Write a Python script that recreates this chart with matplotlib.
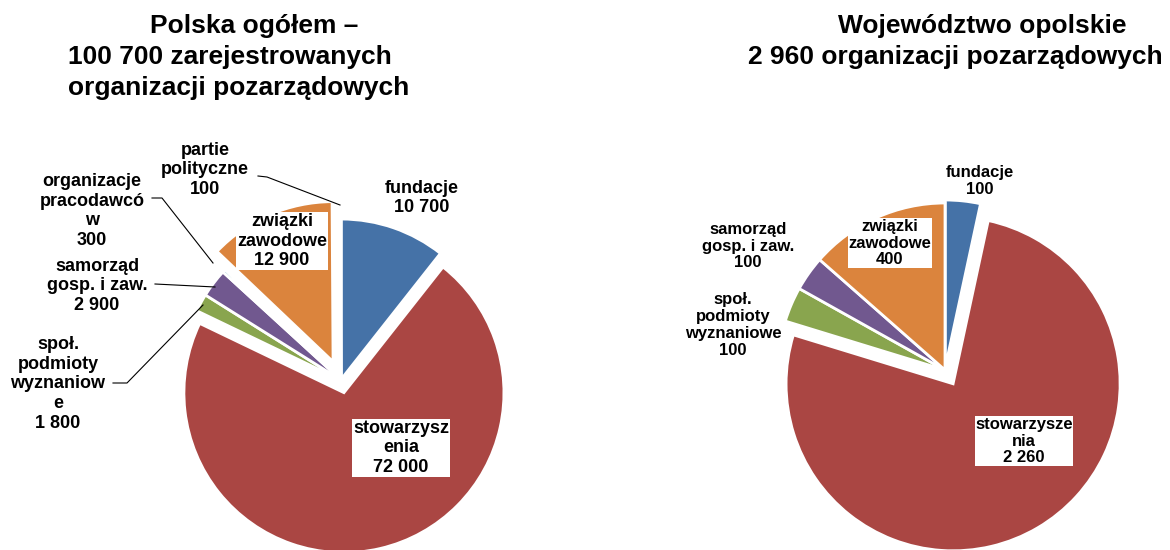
import matplotlib
matplotlib.use('Agg')
import matplotlib.pyplot as plt

plt.rcParams['font.family'] = ['Liberation Sans', 'DejaVu Sans']
plt.rcParams['font.weight'] = 'bold'

# Polska ogółem
labels_pl = ['fundacje', 'stowarzysz\nenia', 'społ.\npodmioty\nwyznaniow\ne',
             'samorząd\ngosp. i zaw.', 'organizacje\npracodawcó\nw',
             'związki\nzawodowe', 'partie\npolityczne']
values_pl = [10700, 72000, 1800, 2900, 300, 12900, 100]
colors_pl = ['#4572A7', '#AA4643', '#89A54E', '#71588F', '#4198AF', '#DB843D', '#93A9CF']

# Województwo opolskie
labels_op = ['fundacje', 'stowarzysze\nnia', 'społ.\npodmioty\nwyznaniowe',
             'samorząd\ngosp. i zaw.', 'związki\nzawodowe']
values_op = [100, 2260, 100, 100, 400]
colors_op = ['#4572A7', '#AA4643', '#89A54E', '#71588F', '#DB843D']

W, H = 1170, 550


def fmt(v):
    return f'{v:,}'.replace(',', ' ')


def flip(y):
    return H - y


fig = plt.figure(figsize=(11.7, 5.5), dpi=100)
ax = fig.add_axes([0, 0, 1, 1])

# explode offsets are in data units (pixels here)
wp = dict(edgecolor='white', linewidth=2)
ax.pie(values_pl, radius=160, center=(341, flip(380)), startangle=90, counterclock=False,
       colors=colors_pl, explode=[1, 13, 0, 0, 0, 20, 0], wedgeprops=wp, frame=True)
ax.pie(values_op, radius=167, center=(945, flip(370)), startangle=90, counterclock=False,
       colors=colors_op, explode=[3, 16, 0, 0, 0], wedgeprops=wp, frame=True)

# label layout (pixel positions, top origin)
pos_pl = [(422, 198), (401, 448), (58, 384), (97, 286), (92, 211), (282, 241), (205, 170)]
boxed_pl = [False, True, False, False, False, True, False]
pos_op = [(980, 181), (1024, 441), (733, 325), (748, 246), (890, 243)]
boxed_op = [False, True, False, False, True]

for lab, v, (x, y), b in zip(labels_pl, values_pl, pos_pl, boxed_pl):
    kw = dict(facecolor='white', edgecolor='none', pad=0.4) if b else None
    ax.text(x, flip(y), f'{lab}\n{fmt(v)}', ha='center', va='center', fontsize=13,
            linespacing=1.2, bbox=kw, zorder=5)

for lab, v, (x, y), b in zip(labels_op, values_op, pos_op, boxed_op):
    kw = dict(facecolor='white', edgecolor='none', pad=0.3) if b else None
    ax.text(x, flip(y), f'{lab}\n{fmt(v)}', ha='center', va='center', fontsize=12,
            linespacing=1.15, bbox=kw, zorder=5)

# leader lines
leaders = [
    [(258, 176), (267, 177), (340, 205)],
    [(152, 198), (162, 198), (213, 263)],
    [(155, 284), (215, 287)],
    [(113, 383), (127, 383), (203, 305)],
]
for pts in leaders:
    ax.plot([p[0] for p in pts], [flip(p[1]) for p in pts], color='black', lw=0.8, zorder=4)

# titles
ax.text(150, flip(33), 'Polska ogółem –', fontsize=19, ha='left', va='baseline')
ax.text(68, flip(64), '100 700 zarejestrowanych', fontsize=19, ha='left', va='baseline')
ax.text(68, flip(95), 'organizacji pozarządowych', fontsize=19, ha='left', va='baseline')
ax.text(838, flip(33), 'Województwo opolskie', fontsize=19, ha='left', va='baseline')
ax.text(748, flip(64), '2 960 organizacji pozarządowych', fontsize=19, ha='left', va='baseline')

ax.set_xlim(0, W)
ax.set_ylim(0, H)
ax.set_aspect('equal')
ax.axis('off')

fig.savefig('out.png', dpi=100)
